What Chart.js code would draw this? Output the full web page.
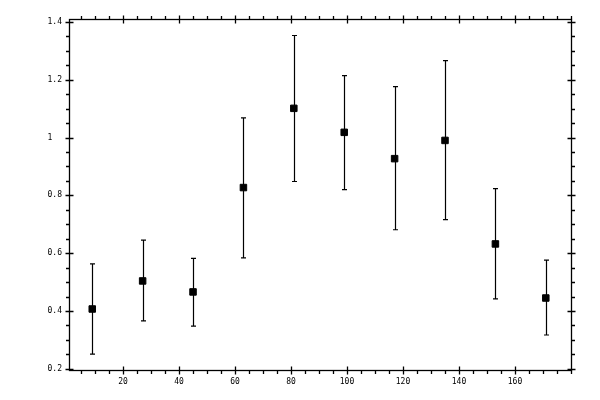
<!DOCTYPE html>
<html>
<head>
<meta charset="utf-8">
<script src="https://cdn.jsdelivr.net/npm/chart.js@4"></script>
<style>
  html, body { margin: 0; padding: 0; background: #fff; }
  #wrap { width: 600px; height: 400px; position: relative; }
</style>
</head>
<body>
<div id="wrap"><canvas id="chart"></canvas></div>
<script>
// data
const xs = [9, 27, 45, 63, 81, 99, 117, 135, 153, 171];
const ys = [0.407, 0.504, 0.466, 0.827, 1.101, 1.018, 0.927, 0.990, 0.632, 0.445];
const yLow = [0.251, 0.366, 0.348, 0.584, 0.848, 0.820, 0.681, 0.716, 0.442, 0.317];
const yHigh = [0.563, 0.645, 0.582, 1.068, 1.353, 1.214, 1.176, 1.266, 0.823, 0.576];
const xTicks = [20, 40, 60, 80, 100, 120, 140, 160];
const yTicks = [0.2, 0.4, 0.6, 0.8, 1, 1.2, 1.4];
const xMinorStep = 5;
const yMinorStep = 0.05;

const INK = '#000';
const FONT = '8px "DejaVu Sans Mono"';

// error bars under the markers
const errorBars = {
    id: 'errorBars',
    beforeDatasetsDraw(chart) {
        const g = chart.ctx, x = chart.scales.x, y = chart.scales.y;
        g.save();
        g.strokeStyle = INK;
        g.lineWidth = 1.2;
        xs.forEach((v, i) => {
            const px = Math.round(x.getPixelForValue(v)) + 0.5;
            const lo = y.getPixelForValue(yLow[i]);
            const hi = y.getPixelForValue(yHigh[i]);
            g.beginPath();
            g.moveTo(px, lo); g.lineTo(px, hi);
            g.moveTo(px - 2.5, lo); g.lineTo(px + 2.5, lo);
            g.moveTo(px - 2.5, hi); g.lineTo(px + 2.5, hi);
            g.stroke();
        });
        g.restore();
    }
};

// box frame with ticks on all four sides: minor ticks outward, major ticks across
const frame = {
    id: 'frame',
    afterDraw(chart) {
        const g = chart.ctx, a = chart.chartArea, x = chart.scales.x, y = chart.scales.y;
        const L = Math.round(a.left) + 0.5, R = Math.round(a.right) + 0.5;
        const T = Math.round(a.top) + 0.5, B = Math.round(a.bottom) + 0.5;
        g.save();
        g.strokeStyle = INK;
        g.lineWidth = 1.3;
        g.strokeRect(L, T, R - L, B - T);
        g.beginPath();
        // minor ticks
        for (let v = Math.ceil(x.min / xMinorStep) * xMinorStep; v <= x.max; v += xMinorStep) {
            const px = Math.round(x.getPixelForValue(v)) + 0.5;
            g.moveTo(px, B); g.lineTo(px, B + 3.5);
            g.moveTo(px, T); g.lineTo(px, T - 3.5);
        }
        for (let k = Math.ceil(y.min / yMinorStep - 1e-6); k * yMinorStep <= y.max + 1e-9; k++) {
            const py = Math.round(y.getPixelForValue(k * yMinorStep)) + 0.5;
            g.moveTo(L, py); g.lineTo(L - 3.5, py);
            g.moveTo(R, py); g.lineTo(R + 3.5, py);
        }
        // major ticks
        xTicks.forEach(v => {
            const px = Math.round(x.getPixelForValue(v)) + 0.5;
            g.moveTo(px, B - 4); g.lineTo(px, B + 4);
            g.moveTo(px, T - 4); g.lineTo(px, T + 4);
        });
        yTicks.forEach(v => {
            const py = Math.round(y.getPixelForValue(v)) + 0.5;
            g.moveTo(L - 4, py); g.lineTo(L + 4, py);
            g.moveTo(R - 4, py); g.lineTo(R + 4, py);
        });
        g.stroke();
        // labels
        g.fillStyle = INK;
        g.font = FONT;
        g.textAlign = 'center';
        g.textBaseline = 'middle';
        xTicks.forEach(v => g.fillText(String(v), x.getPixelForValue(v), B + 11));
        g.textAlign = 'left';
        yTicks.forEach(v => g.fillText(String(v), L - 22, y.getPixelForValue(v)));
        g.restore();
    }
};

new Chart(document.getElementById('chart'), {
    type: 'scatter',
    data: {
        datasets: [{
            data: xs.map((v, i) => ({ x: v, y: ys[i] })),
            pointStyle: 'rect',
            pointRadius: 4.6,
            pointHoverRadius: 4.6,
            backgroundColor: INK,
            borderColor: INK,
            borderWidth: 1
        }]
    },
    options: {
        responsive: true, maintainAspectRatio: false, animation: false,
        devicePixelRatio: 1,
        layout: { padding: { left: 69, right: 29, top: 19, bottom: 30 } },
        plugins: { legend: { display: false }, tooltip: { enabled: false } },
        scales: {
            x: { type: 'linear', display: false, min: 0.7, max: 180 },
            y: { type: 'linear', display: false, min: 0.196, max: 1.41 }
        }
    },
    plugins: [errorBars, frame]
});
</script>
</body>
</html>
